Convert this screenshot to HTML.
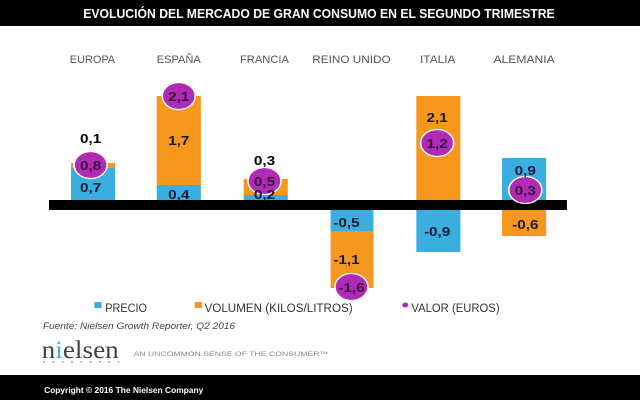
<!DOCTYPE html><html><head><meta charset="utf-8"><style>
body{margin:0;width:640px;height:400px;background:#fff;overflow:hidden;font-family:"Liberation Sans",sans-serif}
</style></head><body>
<svg width="640" height="400" xmlns="http://www.w3.org/2000/svg" font-family="Liberation Sans, sans-serif">
<rect x="0" y="0" width="640" height="26" fill="#000"/>
<rect x="0" y="375" width="640" height="25" fill="#000"/>
<g transform="scale(1.2245,1)">
<text x="68" y="18" fill="#fff" font-size="12.5" font-weight="bold" textLength="385" lengthAdjust="spacingAndGlyphs">EVOLUCIÓN DEL MERCADO DE GRAN CONSUMO EN EL SEGUNDO TRIMESTRE</text>
<g font-size="11" fill="#555">
<text x="57" y="63" textLength="37" lengthAdjust="spacingAndGlyphs">EUROPA</text><text x="128" y="63" textLength="36" lengthAdjust="spacingAndGlyphs">ESPAÑA</text><text x="196" y="63" textLength="40" lengthAdjust="spacingAndGlyphs">FRANCIA</text><text x="255" y="63" textLength="64" lengthAdjust="spacingAndGlyphs">REINO UNIDO</text><text x="343" y="63" textLength="29" lengthAdjust="spacingAndGlyphs">ITALIA</text><text x="403" y="63" textLength="50" lengthAdjust="spacingAndGlyphs">ALEMANIA</text></g>
<g fill="#3aaede">
<rect x="58" y="168" width="36" height="32"/><rect x="128" y="185" width="36" height="15"/><rect x="199" y="195" width="36" height="5"/>
<rect x="270" y="210" width="35" height="21"/><rect x="340" y="210" width="36" height="42"/><rect x="410" y="158" width="36" height="42"/></g>
<g fill="#f7981d">
<rect x="58" y="163" width="36" height="5"/><rect x="128" y="96" width="36" height="89"/><rect x="199" y="179" width="36" height="16"/>
<rect x="270" y="231" width="35" height="57"/><rect x="340" y="96" width="36" height="104"/><rect x="410" y="210" width="36" height="26"/></g>
<rect x="40" y="200" width="423" height="10" fill="#000"/>
<g fill="#b02ab5" stroke="#fff" stroke-width="1.3">
<circle cx="74" cy="165" r="13.5"/><circle cx="146" cy="96" r="13.5"/><circle cx="216" cy="181" r="13.5"/><circle cx="287" cy="287" r="13.5"/><circle cx="357" cy="143" r="13.5"/><circle cx="429" cy="190" r="13.5"/></g>
<g font-size="12.5" font-weight="bold" text-anchor="middle" fill="#1a1a2e">
<text x="74" y="143" fill="#000">0,1</text><text x="74" y="192">0,7</text>
<text x="146" y="145">1,7</text><text x="146" y="199">0,4</text>
<text x="216" y="165" fill="#000">0,3</text><text x="216" y="199">0,2</text>
<text x="283" y="227">-0,5</text><text x="283" y="264">-1,1</text>
<text x="357" y="122">2,1</text><text x="357" y="236">-0,9</text>
<text x="429" y="175">0,9</text><text x="429" y="229">-0,6</text>
<g fill="#3a1040"><text x="74" y="170">0,8</text><text x="146" y="101">2,1</text><text x="216" y="186">0,5</text><text x="287" y="292">-1,6</text><text x="357" y="148">1,2</text><text x="429" y="195">0,3</text></g></g>
<g font-size="12" fill="#333">
<rect x="77" y="302" width="6" height="6" fill="#3aaede"/><text x="86" y="312" textLength="34" lengthAdjust="spacingAndGlyphs">PRECIO</text>
<rect x="159" y="302" width="6" height="6" fill="#f7981d"/><text x="167" y="312" textLength="121" lengthAdjust="spacingAndGlyphs">VOLUMEN (KILOS/LITROS)</text>
<circle cx="331" cy="305" r="2.5" fill="#b02ab5"/><text x="336" y="312" textLength="72" lengthAdjust="spacingAndGlyphs">VALOR (EUROS)</text></g>
<text x="35" y="329" font-size="9.5" font-style="italic" fill="#444" textLength="157" lengthAdjust="spacingAndGlyphs">Fuente: Nielsen Growth Reporter, Q2 2016</text>
<text x="34" y="358" font-size="25" font-family="Liberation Serif, serif" fill="#444" textLength="63" lengthAdjust="spacingAndGlyphs">n<tspan fill="#3aaede">i</tspan>elsen</text>
<g fill="#777"><circle cx="36" cy="362" r="0.7"/><circle cx="43.6" cy="362" r="0.7"/><circle cx="51.2" cy="362" r="0.7"/><circle cx="58.8" cy="362" r="0.7"/><circle cx="66.4" cy="362" r="0.7"/><circle cx="74" cy="362" r="0.7"/><circle cx="81.6" cy="362" r="0.7"/><circle cx="89.2" cy="362" r="0.7"/><circle cx="96.8" cy="362" r="0.7"/></g>
<text x="109" y="356" font-size="6.5" fill="#888" textLength="159" lengthAdjust="spacingAndGlyphs">AN UNCOMMON SENSE OF THE CONSUMER™</text>
<text x="36" y="393" font-size="8.5" font-weight="bold" fill="#fff" textLength="130" lengthAdjust="spacingAndGlyphs">Copyright © 2016 The Nielsen Company</text>
</g>
</svg></body></html>
